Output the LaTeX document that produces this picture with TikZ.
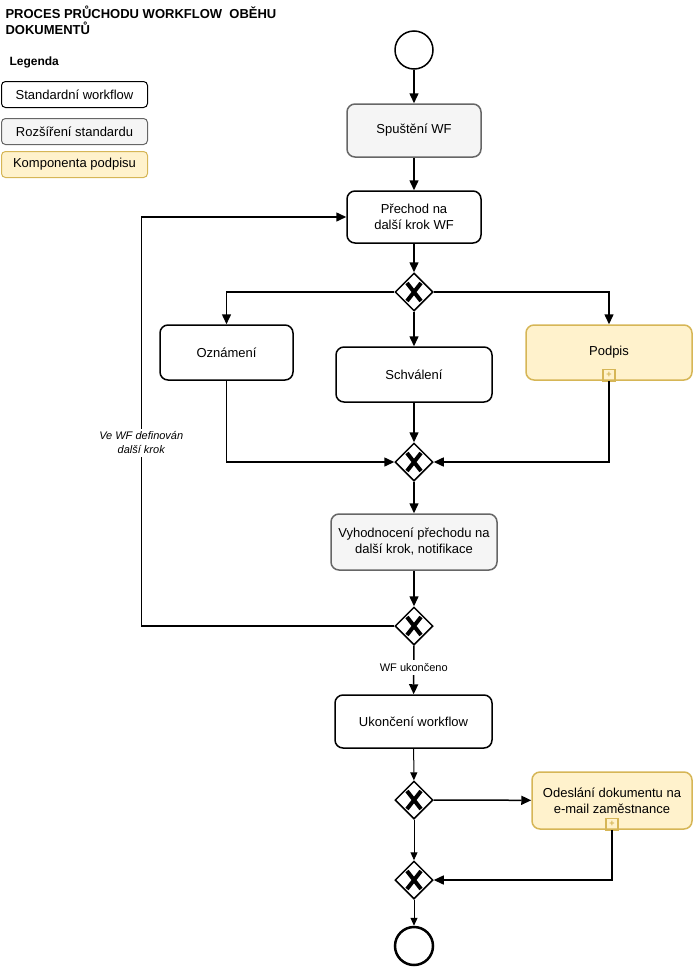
\documentclass[tikz,border=0pt]{standalone}
\usepackage{fontspec}
\setmainfont{Liberation Sans}
\usetikzlibrary{arrows.meta,shapes.geometric}
\definecolor{gfill}{HTML}{F5F5F5}
\definecolor{gline}{HTML}{666666}
\definecolor{yfill}{HTML}{FFF2CC}
\definecolor{yline}{HTML}{D6B656}
\begin{document}
\begin{tikzpicture}[x=1pt,y=-1pt,
  every node/.style={font=\fontsize{13}{16}\selectfont},
  box/.style={draw,line width=1.5pt,rounded corners=8pt,align=center,inner sep=0pt},
  gbox/.style={box,fill=gfill,draw=gline},
  ybox/.style={box,fill=yfill,draw=yline},
  leg/.style={draw,line width=1pt,rounded corners=4pt,minimum width=146pt,minimum height=26pt,inner sep=0pt},
  gw/.style={diamond,draw,line width=1.5pt,fill=white,minimum width=38pt,minimum height=38pt,inner sep=0pt},
  arr/.style={line width=1.5pt,-{Triangle[length=10pt,width=9pt]}},
  tarr/.style={line width=1pt,-{Triangle[length=8pt,width=7pt]}}]
\useasboundingbox (0,0) rectangle (695,972);
% title and legend
\node[anchor=north west,align=left,font=\fontsize{13}{16}\selectfont\bfseries] (title) at (2,2) {PROCES PRŮCHODU WORKFLOW\ \ OBĚHU\\DOKUMENTŮ};
\node[anchor=west,font=\fontsize{12}{14}\selectfont\bfseries] (leg0) at (6,62) {Legenda};
\node[leg,anchor=north west] (leg1) at (1,81) {Standardní workflow};
\node[leg,anchor=north west,fill=gfill,draw=gline] (leg2) at (1,118) {Rozšíření standardu};
\node[leg,anchor=north west,fill=yfill,draw=yline] (leg3) at (1,151) {Komponenta podpisu};
% flow
\node[circle,draw,line width=1.5pt,minimum size=38pt,inner sep=0pt] (start) at (414,50) {};
\node[gbox,minimum width=134pt,minimum height=53pt] (spust) at (414,130.5) {Spuštění WF};
\node[box,minimum width=134pt,minimum height=52pt] (prechod) at (414,217) {Přechod na\\další krok WF};
\node[gw] (g1) at (414,292) {};
\node[box,minimum width=133pt,minimum height=55pt] (ozn) at (226.5,352.5) {Oznámení};
\node[box,minimum width=156pt,minimum height=55pt] (schv) at (414,374.5) {Schválení};
\node[ybox,minimum width=166pt,minimum height=55pt] (podpis) at (609,352.5) {Podpis};
\node[gw] (g2) at (414,462) {};
\node[gbox,minimum width=166pt,minimum height=56pt] (vyh) at (414,542) {Vyhodnocení přechodu na\\další krok, notifikace};
\node[gw] (g3) at (414,626) {};
\node[box,minimum width=157pt,minimum height=53pt] (ukon) at (413.5,721.5) {Ukončení workflow};
\node[gw] (g4) at (414,800) {};
\node[ybox,minimum width=160pt,minimum height=57pt] (odes) at (612,800.5) {Odeslání dokumentu na\\e-mail zaměstnance};
\node[gw] (g5) at (414,880) {};
\node[circle,draw,line width=2.5pt,minimum size=38pt,inner sep=0pt] (end) at (414,946) {};
% X markers
\foreach \g in {g1,g2,g3,g4,g5}{
  \draw[line width=4pt] ([shift={(-7,-9)}]\g.center) -- ([shift={(7,9)}]\g.center);
  \draw[line width=4pt] ([shift={(-7,9)}]\g.center) -- ([shift={(7,-9)}]\g.center);}
% sub-process markers
\foreach \b in {podpis,odes}{
  \node[draw=yline,line width=1.2pt,minimum size=12pt,inner sep=0pt,anchor=south,text=yline,font=\fontsize{9}{9}\selectfont\bfseries] (m\b) at ([yshift=-1pt]\b.south) {+};}
% connectors
\draw[arr] (start) -- (spust);
\draw[arr] (spust) -- (prechod);
\draw[arr] (prechod) -- (g1);
\draw[arr] (g1.west) -| (ozn.north);
\draw[arr] (g1) -- (schv);
\draw[arr] (g1.east) -| (podpis.north);
\draw[arr] (ozn.south) |- (g2.west);
\draw[arr] (schv) -- (g2);
\draw[arr] (podpis.south) |- (g2.east);
\draw[arr] (g2) -- (vyh);
\draw[arr] (vyh) -- (g3);
\draw[arr] (g3.west) -- ++(-253,0) coordinate (lc) |- (prechod.west);
\node[fill=white,font=\fontsize{11}{14}\selectfont\itshape,align=center] (lbl) at ([yshift=183pt]lc) {Ve WF definován\\další krok};
\draw[arr] (g3) -- (ukon) node[pos=0.45,fill=white,font=\fontsize{11}{13}\selectfont] (wfu) {WF ukončeno};
\draw[tarr] (ukon) -- (g4);
\draw[arr] (g4) -- (odes);
\draw[tarr] (g4) -- (g5);
\draw[arr] (odes.south) |- (g5.east);
\draw[tarr] (g5) -- (end);
\end{tikzpicture}
\end{document}
